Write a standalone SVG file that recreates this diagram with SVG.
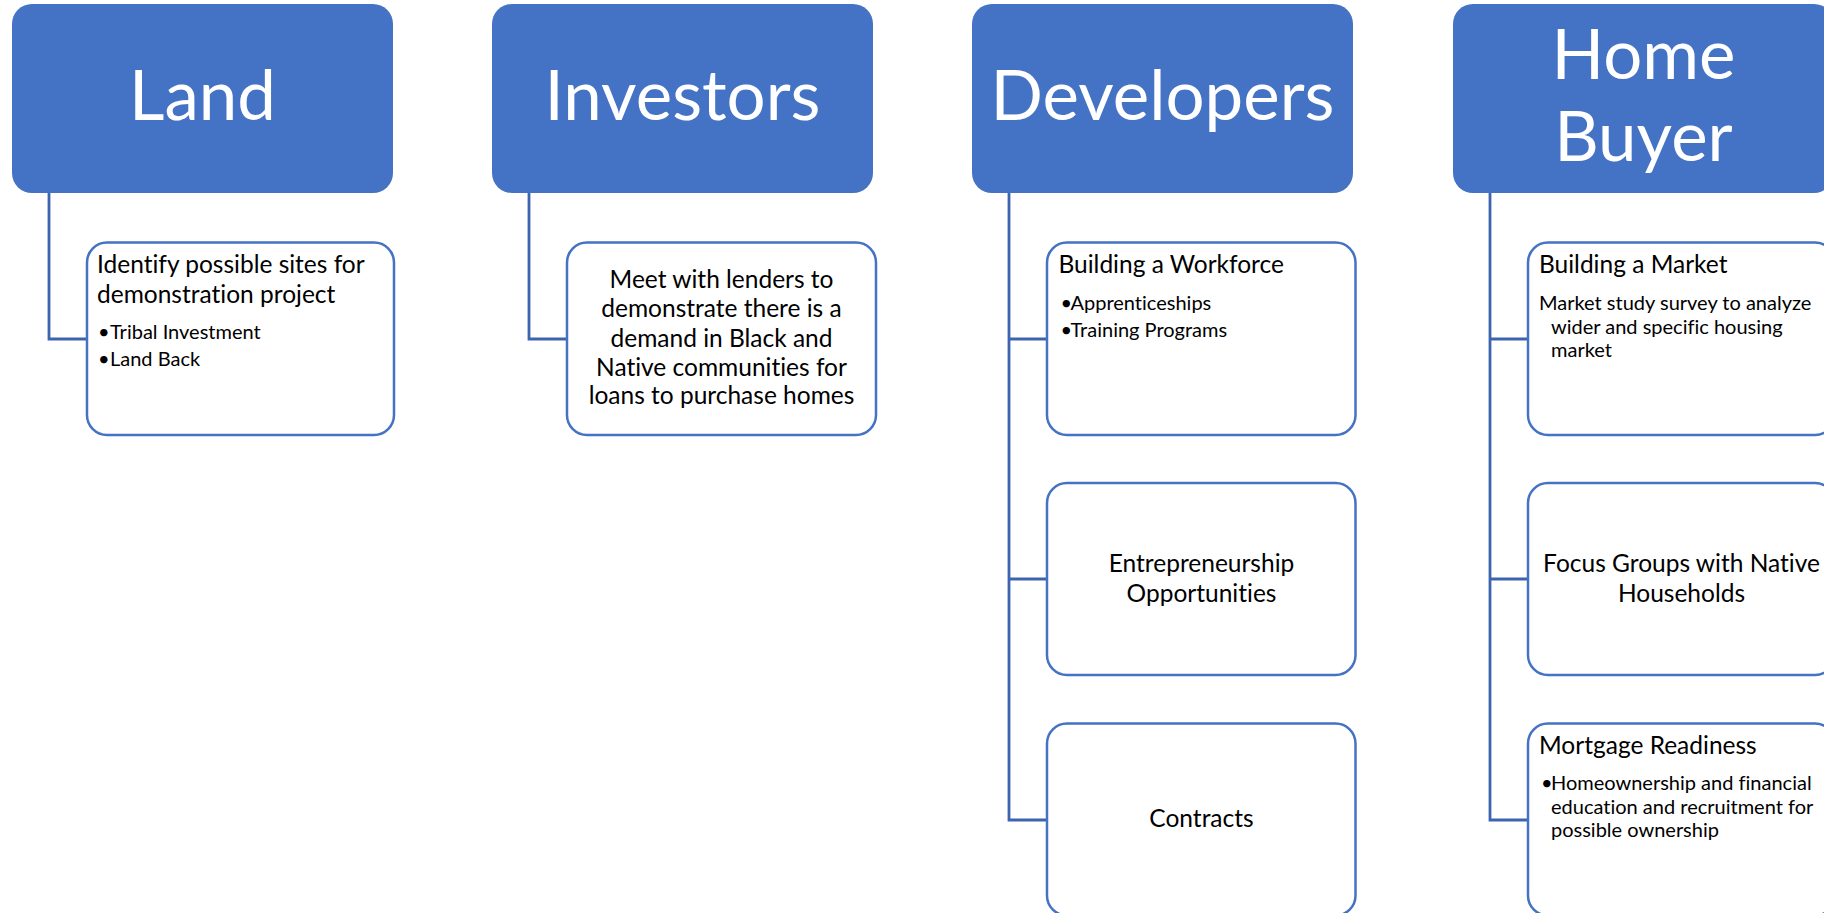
<svg xmlns="http://www.w3.org/2000/svg" width="1824" height="913" viewBox="0 0 1824 913">
  <style>
    .head { fill: #4472C4; }
    .child { fill: #FFFFFF; stroke: #4472C4; stroke-width: 2.5; }
    .link { fill: none; stroke: #3D64AE; stroke-width: 2.8; }
    text { font-family: Lato, "Liberation Sans", sans-serif; fill: #000000; font-variant-ligatures: none; }
    .ht { font-size: 69px; fill: #FFFFFF; text-anchor: middle; }
    .bt { font-size: 24.5px; }
    .st { font-size: 20px; }
    .c { text-anchor: middle; }
  </style>
  <rect width="1824" height="913" fill="#FFFFFF"/>

  <!-- connectors -->
  <g id="connectors">
    <path class="link" d="M49 193 V339 H87"/>
    <path class="link" d="M529 193 V339 H567"/>
    <path class="link" d="M1009 193 V820 H1047 M1009 339 H1047 M1009 579 H1047"/>
    <path class="link" d="M1490 193 V820 H1528 M1490 339 H1528 M1490 579 H1528"/>
  </g>

  <!-- Land column -->
  <g id="land">
    <rect class="head" x="12" y="4" width="381" height="189" rx="20"/>
    <text class="ht" x="202.5" y="120">Land</text>
  </g>
  <g id="land-sites">
    <rect class="child" x="87" y="242.5" width="307" height="192.5" rx="20"/>
    <text class="bt" x="97" y="273">Identify possible sites for</text>
    <text class="bt" x="97" y="303">demonstration project</text>
    <text class="st" x="98" y="339">•</text>
    <text class="st" x="110" y="339">Tribal Investment</text>
    <text class="st" x="98" y="366">•</text>
    <text class="st" x="110" y="366">Land Back</text>
  </g>

  <!-- Investors column -->
  <g id="investors">
    <rect class="head" x="492" y="4" width="381" height="189" rx="20"/>
    <text class="ht" x="682.5" y="120">Investors</text>
  </g>
  <g id="investors-lenders">
    <rect class="child" x="567" y="242.5" width="309" height="192.5" rx="20"/>
    <text class="bt c" x="721.5" y="288">Meet with lenders to</text>
    <text class="bt c" x="721.5" y="317">demonstrate there is a</text>
    <text class="bt c" x="721.5" y="347">demand in Black and</text>
    <text class="bt c" x="721.5" y="376">Native communities for</text>
    <text class="bt c" x="721.5" y="404">loans to purchase homes</text>
  </g>

  <!-- Developers column -->
  <g id="developers">
    <rect class="head" x="972" y="4" width="381" height="189" rx="20"/>
    <text class="ht" x="1162.5" y="120">Developers</text>
  </g>
  <g id="developers-workforce">
    <rect class="child" x="1047" y="242.5" width="308.5" height="192.5" rx="20"/>
    <text class="bt" x="1058.5" y="272.5">Building a Workforce</text>
    <text class="st" x="1060.5" y="310">•</text>
    <text class="st" x="1070.5" y="310">Apprenticeships</text>
    <text class="st" x="1060.5" y="336.5">•</text>
    <text class="st" x="1070.5" y="336.5">Training Programs</text>
  </g>
  <g id="developers-entrepreneurship">
    <rect class="child" x="1047" y="483" width="308.5" height="192" rx="20"/>
    <text class="bt c" x="1201.5" y="571.5">Entrepreneurship</text>
    <text class="bt c" x="1201.5" y="601.5">Opportunities</text>
  </g>
  <g id="developers-contracts">
    <rect class="child" x="1047" y="723.5" width="308.5" height="192" rx="20"/>
    <text class="bt c" x="1201.5" y="826.5">Contracts</text>
  </g>

  <!-- Home Buyer column -->
  <g id="home-buyer">
    <rect class="head" x="1453" y="4" width="381" height="189" rx="20"/>
    <text class="ht" x="1643.5" y="79">Home</text>
    <text class="ht" x="1643.5" y="161">Buyer</text>
  </g>
  <g id="home-buyer-market">
    <rect class="child" x="1528" y="242.5" width="307" height="192.5" rx="20"/>
    <text class="bt" x="1539" y="272.5">Building a Market</text>
    <text class="st" x="1539" y="310">Market study survey to analyze</text>
    <text class="st" x="1551" y="333.5">wider and specific housing</text>
    <text class="st" x="1551" y="356.5">market</text>
  </g>
  <g id="home-buyer-focus">
    <rect class="child" x="1528" y="483" width="307" height="192" rx="20"/>
    <text class="bt c" x="1681.5" y="571.5">Focus Groups with Native</text>
    <text class="bt c" x="1681.5" y="601.5">Households</text>
  </g>
  <g id="home-buyer-mortgage">
    <rect class="child" x="1528" y="723.5" width="307" height="192" rx="20"/>
    <text class="bt" x="1539" y="753.5">Mortgage Readiness</text>
    <text class="st" x="1541" y="790">•</text>
    <text class="st" x="1551" y="790">Homeownership and financial</text>
    <text class="st" x="1551" y="813.5">education and recruitment for</text>
    <text class="st" x="1551" y="836.5">possible ownership</text>
  </g>
</svg>
